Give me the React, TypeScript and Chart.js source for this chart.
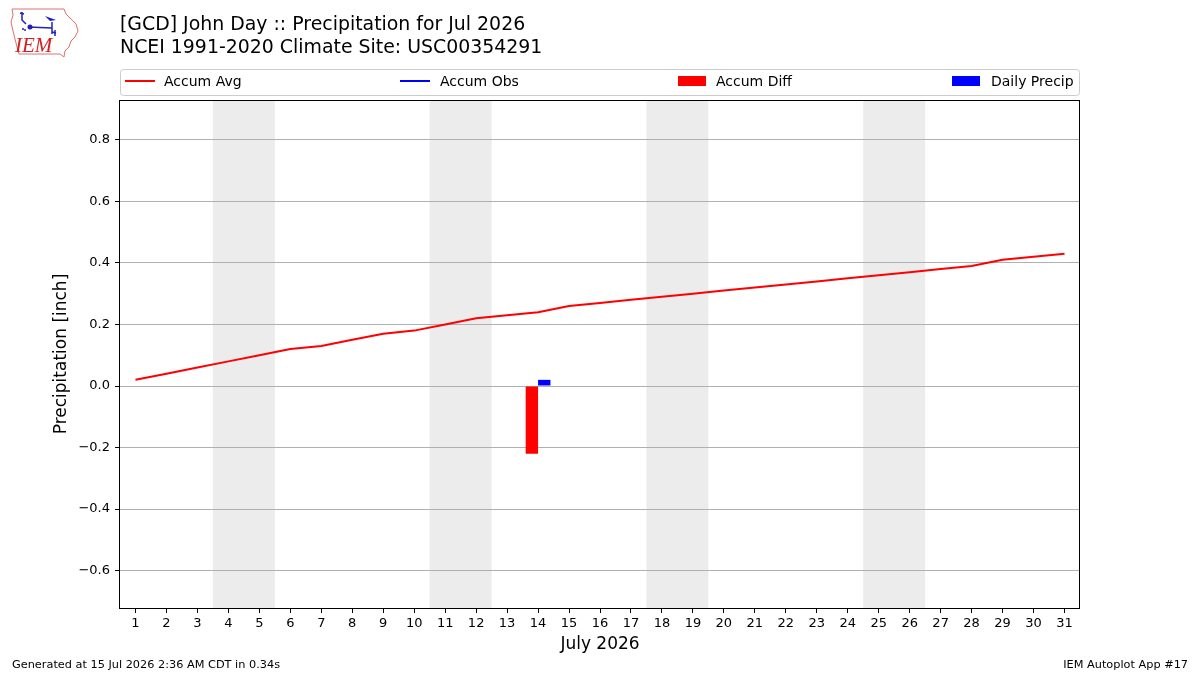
import React, { useEffect, useRef } from "react";
import { Chart, registerables } from "chart.js";

Chart.register(...registerables);

const dayLabels = ["1","2","3","4","5","6","7","8","9","10","11","12","13","14","15","16","17","18","19","20","21","22","23","24","25","26","27","28","29","30","31"];
const accumAvg = [0.02,0.04,0.06,0.08,0.10,0.12,0.13,0.15,0.17,0.18,0.20,0.22,0.23,0.24,0.26,0.27,0.28,0.29,0.30,0.31,0.32,0.33,0.34,0.35,0.36,0.37,0.38,0.39,0.41,0.42,0.43];
const obsDays = [14];
const obsValues = [0.02];
const diffDays = [14];
const diffValues = [-0.22];
const precipDays = [14];
const precipValues = [0.02];
const weekendSpans = [[4, 5], [11, 12], [18, 19], [25, 26]];
const yMin = -0.7215;
const yMax = 0.9295;
const yStep = 0.2;

const titleLines = ["[GCD] John Day :: Precipitation for Jul 2026", "NCEI 1991-2020 Climate Site: USC00354291"];
const legendLabels = ["Accum Avg", "Accum Obs", "Accum Diff", "Daily Precip"];
const footerLeft = "Generated at 15 Jul 2026 2:36 AM CDT in 0.34s";
const footerRight = "IEM Autoplot App #17";

function spread(days: number[], values: number[]): (number | null)[] {
  const out: (number | null)[] = dayLabels.map(() => null);
  days.forEach((d, i) => { out[d - 1] = values[i]; });
  return out;
}

const FONT = "'DejaVu Sans', sans-serif";

const decorPlugin = {
  id: "decor",
  beforeDraw(chart: any) {
    const { ctx, chartArea, scales } = chart;
    ctx.save();
    ctx.fillStyle = "#ffffff";
    ctx.fillRect(0, 0, chart.width, chart.height);
    const x = scales.x;
    const half = (x.getPixelForValue(1) - x.getPixelForValue(0)) / 2;
    ctx.fillStyle = "#ececec";
    weekendSpans.forEach(([a, b]) => {
      const x0 = x.getPixelForValue(a - 1) - half;
      const x1 = x.getPixelForValue(b - 1) + half;
      ctx.fillRect(x0, chartArea.top, x1 - x0, chartArea.bottom - chartArea.top);
    });
    ctx.restore();
  },
  afterDatasetsDraw(chart: any) {
    const { ctx, chartArea } = chart;
    ctx.save();
    ctx.strokeStyle = "#000";
    ctx.lineWidth = 1;
    ctx.strokeRect(chartArea.left - 0.5, chartArea.top + 0.5, chartArea.right - chartArea.left, chartArea.bottom - chartArea.top);
    ctx.restore();
  },
  afterDraw(chart: any) {
    const { ctx } = chart;
    ctx.save();
    // Title
    ctx.fillStyle = "#000";
    ctx.font = `18.9px ${FONT}`;
    ctx.textBaseline = "middle";
    ctx.textAlign = "left";
    ctx.fillText(titleLines[0], 120, 25);
    ctx.fillText(titleLines[1], 120, 48);

    // Legend box
    ctx.strokeStyle = "#cccccc";
    ctx.lineWidth = 1;
    ctx.beginPath();
    const bx = 120.5, by = 69.5, bw = 959, bh = 26, r = 3;
    ctx.moveTo(bx + r, by);
    ctx.lineTo(bx + bw - r, by);
    ctx.arcTo(bx + bw, by, bx + bw, by + r, r);
    ctx.lineTo(bx + bw, by + bh - r);
    ctx.arcTo(bx + bw, by + bh, bx + bw - r, by + bh, r);
    ctx.lineTo(bx + r, by + bh);
    ctx.arcTo(bx, by + bh, bx, by + bh - r, r);
    ctx.lineTo(bx, by + r);
    ctx.arcTo(bx, by, bx + r, by, r);
    ctx.closePath();
    ctx.fillStyle = "rgba(255,255,255,0.8)";
    ctx.fill();
    ctx.stroke();

    const ly = 82;
    ctx.font = `14px ${FONT}`;
    ctx.lineWidth = 2;
    // Accum Avg
    ctx.strokeStyle = "#ff0000";
    ctx.beginPath(); ctx.moveTo(125, 81); ctx.lineTo(155, 81); ctx.stroke();
    ctx.fillStyle = "#000";
    ctx.fillText(legendLabels[0], 164, ly);
    // Accum Obs
    ctx.strokeStyle = "#0000ff";
    ctx.beginPath(); ctx.moveTo(400, 81); ctx.lineTo(430, 81); ctx.stroke();
    ctx.fillStyle = "#000";
    ctx.fillText(legendLabels[1], 440, ly);
    // Accum Diff
    ctx.fillStyle = "#ff0000";
    ctx.fillRect(678, 76, 28, 10);
    ctx.fillStyle = "#000";
    ctx.fillText(legendLabels[2], 716, ly);
    // Daily Precip
    ctx.fillStyle = "#0000ff";
    ctx.fillRect(952, 76, 28, 10);
    ctx.fillStyle = "#000";
    ctx.fillText(legendLabels[3], 991, ly);

    // Footer
    ctx.font = `11.3px ${FONT}`;
    ctx.fillText(footerLeft, 12, 665);
    ctx.textAlign = "right";
    ctx.fillText(footerRight, 1188, 665);

    // Logo (Iowa outline + IEM)
    ctx.strokeStyle = "#e07070";
    ctx.lineWidth = 1;
    ctx.beginPath();
    const pts = [[12,9],[64,9],[66,14],[71,19],[76,24],[78,31],[75,37],[71,41],[69,47],[65,51],[64,57],[60,54],[19,54],[17,47],[15,39],[13,31],[11,22],[13,15]];
    pts.forEach(([px, py], i) => (i === 0 ? ctx.moveTo(px, py) : ctx.lineTo(px, py)));
    ctx.closePath();
    ctx.stroke();
    ctx.fillStyle = "#d42020";
    ctx.font = "italic 21px 'Liberation Serif', serif";
    ctx.textAlign = "left";
    ctx.textBaseline = "alphabetic";
    ctx.fillText("IEM", 15, 52);
    ctx.strokeStyle = "#2020c0";
    ctx.fillStyle = "#2020c0";
    ctx.lineWidth = 1.5;
    ctx.beginPath(); ctx.moveTo(28, 27); ctx.lineTo(52, 28); ctx.stroke();
    ctx.beginPath(); ctx.arc(30, 27, 2.5, 0, Math.PI * 2); ctx.fill();
    ctx.beginPath(); ctx.moveTo(52, 22); ctx.lineTo(52, 34); ctx.stroke();
    ctx.beginPath(); ctx.moveTo(45, 16); ctx.lineTo(56, 20); ctx.lineTo(50, 21); ctx.closePath(); ctx.fill();
    ctx.beginPath(); ctx.moveTo(22, 12); ctx.lineTo(22, 20); ctx.lineTo(26, 24); ctx.stroke();
    ctx.beginPath(); ctx.moveTo(20, 13); ctx.lineTo(24, 14); ctx.stroke();
    ctx.beginPath(); ctx.arc(23, 29, 1, 0, Math.PI * 2); ctx.fill();
    ctx.beginPath(); ctx.arc(25, 30, 1, 0, Math.PI * 2); ctx.fill();
    ctx.beginPath(); ctx.moveTo(52, 32); ctx.lineTo(56, 33); ctx.stroke();
    ctx.beginPath(); ctx.moveTo(55, 30); ctx.lineTo(55, 36); ctx.stroke();
    ctx.restore();
  },
};

export default function App() {
  const ref = useRef<HTMLCanvasElement | null>(null);
  useEffect(() => {
    if (!ref.current) return;
    const chart = new Chart(ref.current, {
      type: "bar",
      data: {
        labels: dayLabels,
        datasets: [
          {
            type: "line",
            label: "Accum Avg",
            data: accumAvg,
            borderColor: "#ff0000",
            backgroundColor: "#ff0000",
            borderWidth: 2,
            pointRadius: 0,
            tension: 0,
            order: 0,
          } as any,
          {
            type: "line",
            label: "Accum Obs",
            data: spread(obsDays, obsValues),
            borderColor: "#0000ff",
            backgroundColor: "#0000ff",
            borderWidth: 2,
            pointRadius: 0,
            order: 0,
          } as any,
          {
            type: "bar",
            label: "Accum Diff",
            data: spread(diffDays, diffValues),
            backgroundColor: "#ff0000",
            categoryPercentage: 0.8,
            barPercentage: 1.0,
            order: 1,
          },
          {
            type: "bar",
            label: "Daily Precip",
            data: spread(precipDays, precipValues),
            backgroundColor: "#0000ff",
            categoryPercentage: 0.8,
            barPercentage: 1.0,
            order: 1,
          },
        ],
      },
      options: {
        responsive: false,
        animation: false,
        devicePixelRatio: 1,
        layout: { padding: { top: 100, right: 120, bottom: 0, left: 0 } },
        plugins: {
          legend: { display: false },
          tooltip: { enabled: false },
          title: { display: false },
        },
        scales: {
          x: {
            type: "category",
            offset: true,
            grid: { display: true, drawOnChartArea: false, offset: false, tickLength: 5, tickColor: "#000", tickWidth: 1 },
            border: { display: false },
            ticks: { color: "#000", font: { family: FONT, size: 13 }, padding: 3, maxRotation: 0, autoSkip: false },
            title: { display: true, text: "July 2026", color: "#000", font: { family: FONT, size: 17 }, padding: { top: 0, bottom: 20 } },
            afterFit: (s: any) => { s.height = 67; },
          },
          y: {
            type: "linear",
            min: yMin,
            max: yMax,
            grid: { color: "#b0b0b0", lineWidth: 1, tickColor: "#000", tickLength: 5 },
            border: { display: false },
            ticks: {
              stepSize: yStep,
              includeBounds: false,
              color: "#000",
              font: { family: FONT, size: 13 },
              padding: 5,
              callback: (v: any) => {
                const n = Number(v);
                if (Math.abs(n) < 1e-9) return "0.0";
                return n.toFixed(1).replace("-", "\u2212");
              },
            },
            title: { display: true, text: "Precipitation [inch]", color: "#000", font: { family: FONT, size: 17 }, padding: { top: 51, bottom: 0 } },
            afterFit: (s: any) => { s.width = 120; },
          },
        },
      },
      plugins: [decorPlugin],
    } as any);
    return () => chart.destroy();
  }, []);
  return (
    <div style={{ position: "fixed", left: 0, top: 0, width: 1200, height: 675, background: "#fff" }}>
      <canvas ref={ref} width={1200} height={675} style={{ width: 1200, height: 675, display: "block" }} />
    </div>
  );
}
